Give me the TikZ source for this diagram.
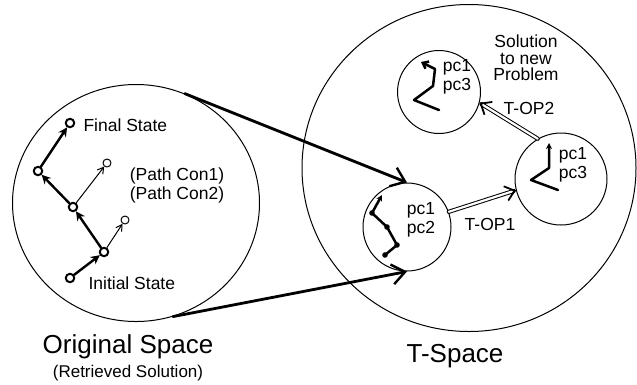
\documentclass[tikz,border=0pt]{standalone}
\usepackage{fontspec}
\setmainfont{Liberation Sans}
\usetikzlibrary{arrows.meta,shapes.geometric}

\begin{document}
\begin{tikzpicture}[line cap=round,line join=round,x=1pt,y=-1pt,
  space/.style={draw,ellipse,line width=1pt,inner sep=0pt},
  sub/.style={draw,circle,line width=1pt,inner sep=0pt,minimum size=#1},
  state/.style={draw,circle,line width=2pt,inner sep=0pt,minimum size=8.5pt},
  opstate/.style={draw,circle,line width=1pt,inner sep=0pt,minimum size=8pt},
  step arrow/.style={line width=2.4pt,-{Stealth[length=9pt,width=9pt]}},
  try arrow/.style={line width=1pt,-{Straight Barb[length=6pt,width=7pt,line width=1pt]}},
  map arrow/.style={line width=2.8pt,-{Straight Barb[length=13pt,width=20pt,line width=2.4pt]}},
  op arrow/.style={double,double distance=2.2pt,line width=1pt,-{Straight Barb[length=9pt,width=15pt,line width=1.8pt]}},
  small/.style={font=\fontsize{17.5}{19}\selectfont,align=center},
  big/.style={font=\fontsize{26}{28}\selectfont}]
\useasboundingbox (0,0) rectangle (637,384);
% the two spaces
\node[space,minimum width=247pt,minimum height=237pt] (orig) at (136,203) {};
\node[space,minimum width=334pt,minimum height=327pt] (tsp) at (469,168) {};
\node[big] (origlab) at (128,347) {Original Space};
\node[small,font=\fontsize{17}{19}\selectfont] (retr) at (128,373) {(Retrieved Solution)};
\node[big] (tlab) at (455,356) {T-Space};
% retrieved solution path
\node[state] (fin) at (70,123) {};
\node[state] (sa) at (38,171) {};
\node[state] (sb) at (73,207) {};
\node[state] (sc) at (104,252) {};
\node[state] (ini) at (70,278) {};
\node[opstate] (oa) at (107,163) {};
\node[opstate] (ob) at (125,220) {};
\draw[step arrow] (ini) -- (sc);
\draw[step arrow] (sc) -- (sb);
\draw[step arrow] (sb) -- (sa);
\draw[step arrow] (sa) -- (fin);
\draw[try arrow] (sb) -- (oa);
\draw[try arrow] (sc) -- (ob);
\node[small,anchor=west] (finlab) at (80,125) {Final State};
\node[small,anchor=west] (inilab) at (85,283) {Initial State};
\node[small] (pcon) at (177,185) {(Path Con1)\\(Path Con2)};
% sub spaces in T-Space
\node[sub=88pt] (pca) at (407,227) {};
\node[sub=92pt] (pcb) at (561,179) {};
\node[sub=83pt] (pcc) at (439,92) {};
\node[small] (pcatxt) at (421,220) {pc1\\pc2};
\node[small] (pcbtxt) at (573,165) {pc1\\pc3};
\node[small] (pcctxt) at (457,77) {pc1\\pc3};
\node[small,font=\fontsize{17.5}{16.5}\selectfont] (soln) at (526,58) {Solution\\to new\\Problem};
\draw[line width=2.5pt,-{Stealth[length=6pt,width=6pt]}] (385,255) -- (397,245) -- (387,227) -- (372,213) -- (382,195);
\foreach \p in {(385,255),(397,245),(387,227),(372,213)}
  \fill \p circle (2.8pt);
\draw[line width=2.5pt,-{Stealth[length=6pt,width=6pt]}] (558,190) -- (531,180) -- (549,168) -- (549,143);
\draw[line width=2.5pt,-{Straight Barb[length=5pt,width=8pt]}] (439,110) -- (414,100) -- (433,86) -- (435,69) -- (421,62);
% mapping and operators
\draw[map arrow] (orig.66) -- (pca.north);
\draw[map arrow] (orig.288) -- (pca.south);
\draw[op arrow] (pca.20) -- (pcb.194);
\draw[op arrow] (pcb.120) -- (pcc.345);
\node[small] (top1) at (490,224) {T-OP1};
\node[small] (top2) at (529,108) {T-OP2};
\end{tikzpicture}
\end{document}
